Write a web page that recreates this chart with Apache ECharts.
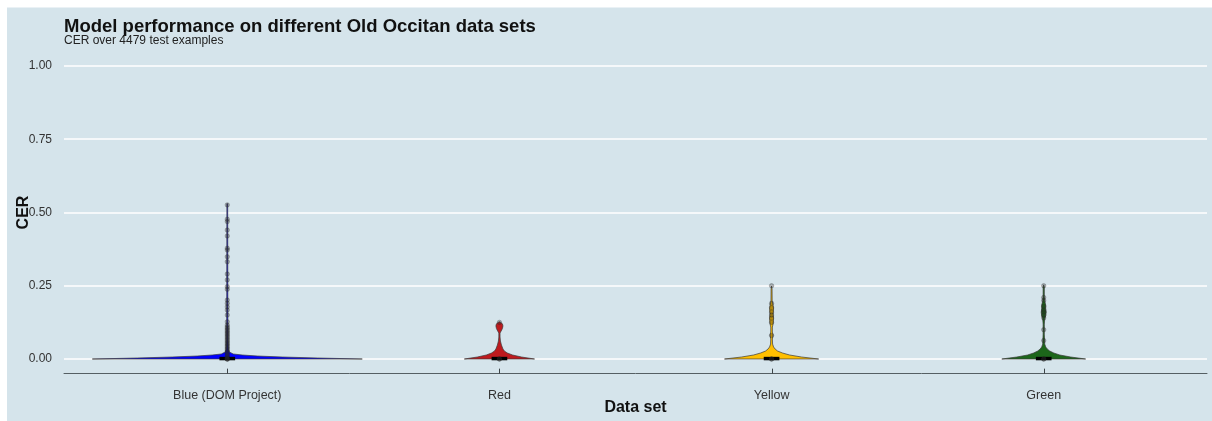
<!DOCTYPE html>
<html>
<head>
<meta charset="utf-8">
<style>
  html, body { margin: 0; padding: 0; background: #ffffff; }
  #chart { width: 1212px; height: 421px; }
</style>
<script src="https://cdn.jsdelivr.net/npm/echarts@6/dist/echarts.min.js"></script>
</head>
<body>
<div id="chart"></div>
<script>
// Data sets on the x axis
const categories = ['Blue (DOM Project)', 'Red', 'Yellow', 'Green'];
const fillColors = ['#0000ff', '#be1a1e', '#ffbf00', '#1c661a'];
const yTicks = [0, 0.25, 0.5, 0.75, 1];

// Violin outlines: [CER, half width as a fraction of one category step]
const blueProfile = [
  [0, 0.496], [0.0034, 0.331], [0.0068, 0.202], [0.0102, 0.110], [0.0137, 0.055],
  [0.0171, 0.022], [0.024, 0.0074], [0.034, 0.0037], [0.068, 0.0022], [0.53, 0.0015]
];
const redProfile = [
  [0, 0.129], [0.0068, 0.081], [0.0137, 0.048], [0.0205, 0.029], [0.0273, 0.018],
  [0.0341, 0.013], [0.0478, 0.0074], [0.0614, 0.0037], [0.075, 0.0022], [0.0887, 0.0022],
  [0.094, 0.0055], [0.104, 0.011], [0.113, 0.013], [0.120, 0.011], [0.124, 0.0055], [0.127, 0]
];
const yellowProfile = [
  [0, 0.173], [0.0068, 0.110], [0.0137, 0.066], [0.0205, 0.040], [0.0273, 0.022],
  [0.0341, 0.013], [0.041, 0.0074], [0.051, 0.0037], [0.068, 0.003], [0.082, 0.0055],
  [0.092, 0.003], [0.109, 0.003], [0.119, 0.0055], [0.137, 0.0074], [0.154, 0.0055],
  [0.171, 0.0074], [0.184, 0.0055], [0.198, 0.0022], [0.239, 0.0018], [0.249, 0]
];
const greenProfile = [
  [0, 0.154], [0.0068, 0.099], [0.0137, 0.059], [0.0205, 0.037], [0.0273, 0.022],
  [0.0341, 0.013], [0.041, 0.0074], [0.051, 0.0037], [0.085, 0.0022], [0.119, 0.0022],
  [0.137, 0.0037], [0.147, 0.0074], [0.160, 0.0092], [0.171, 0.0074], [0.184, 0.0074],
  [0.198, 0.0037], [0.212, 0.0022], [0.246, 0.0022], [0.253, 0]
];
const profiles = [blueProfile, redProfile, yellowProfile, greenProfile];

// Box summaries (lower hinge, upper hinge)
const boxLower = [0, 0, 0, 0];
const boxUpper = [0.003, 0.003, 0.003, 0.003];

// Individual CER values drawn as points
const bluePoints = [
  0, 0, 0, 0.005, 0.01, 0.015, 0.02, 0.025, 0.03, 0.035, 0.04, 0.045, 0.05, 0.055,
  0.06, 0.065, 0.07, 0.075, 0.08, 0.085, 0.09, 0.095, 0.10, 0.105, 0.11, 0.116,
  0.127, 0.15, 0.167, 0.178, 0.19, 0.201, 0.238, 0.247, 0.27, 0.29, 0.332, 0.349,
  0.372, 0.378, 0.42, 0.44, 0.469, 0.477, 0.526
];
const redPoints = [0, 0, 0.125];
const yellowPoints = [0, 0, 0.08, 0.125, 0.14, 0.15, 0.16, 0.175, 0.19, 0.25];
const greenPoints = [0, 0, 0.063, 0.1, 0.14, 0.15, 0.16, 0.167, 0.18, 0.2, 0.21, 0.25];
const pointSets = [bluePoints, redPoints, yellowPoints, greenPoints];

const FONT = '"Liberation Sans", Arial, sans-serif';
const Y_MIN = -0.05;

const scatterData = [];
pointSets.forEach((vals, i) => vals.forEach(v => scatterData.push([i, v])));

const chart = echarts.init(document.getElementById('chart'));
chart.setOption({
  backgroundColor: '#ffffff',
  animation: false,
  graphic: [{
    type: 'rect', z: -10, silent: true,
    shape: { x: 7, y: 7.5, width: 1205, height: 414 },
    style: { fill: '#d5e4eb' }
  }],
  title: {
    text: 'Model performance on different Old Occitan data sets',
    subtext: 'CER over 4479 test examples',
    left: 64, top: 17, itemGap: -1.5, padding: 0,
    textStyle: { fontFamily: FONT, fontSize: 18.5, fontWeight: 'bold', color: '#111' },
    subtextStyle: { fontFamily: FONT, fontSize: 12, color: '#222' }
  },
  grid: { left: 64, right: 5, top: 51.35, bottom: 47.35, containLabel: false, outerBoundsMode: 'none' },
  xAxis: {
    type: 'value', min: -0.6, max: 3.6,
    name: 'Data set', nameLocation: 'middle', nameGap: 26, nameMoveOverlap: false,
    nameTextStyle: { fontFamily: FONT, fontSize: 16, fontWeight: 'bold', color: '#111' },
    axisLine: { show: true, onZero: false, lineStyle: { color: '#555f63', width: 1 } },
    axisTick: { show: false, customValues: [0, 1, 2, 3] },
    axisLabel: { customValues: [0, 1, 2, 3], margin: 15,
      fontFamily: FONT, fontSize: 12.5, color: '#333',
      formatter: v => categories[Math.round(v)] },
    splitLine: { show: false }
  },
  yAxis: {
    type: 'value', min: Y_MIN, max: 1.05,
    name: 'CER', nameLocation: 'middle', nameGap: 32, nameRotate: 90, nameMoveOverlap: false,
    nameTextStyle: { fontFamily: FONT, fontSize: 16, fontWeight: 'bold', color: '#111' },
    axisLine: { show: false, onZero: false },
    axisTick: { show: false, customValues: yTicks },
    axisLabel: { customValues: yTicks, margin: 12,
      fontFamily: FONT, fontSize: 12, color: '#333',
      formatter: v => v.toFixed(2) },
    splitLine: { show: true, lineStyle: { color: '#ffffff', width: 1.5 } }
  },
  series: [
    {
      type: 'custom', name: 'violin', z: 2,
      data: categories.map((c, i) => [i]),
      renderItem: (params, api) => {
        const i = api.value(0);
        const prof = profiles[i];
        const right = prof.map(p => api.coord([i + p[1], p[0]]));
        const left = prof.slice().reverse().map(p => api.coord([i - p[1], p[0]]));
        return {
          type: 'polygon',
          shape: { points: right.concat(left) },
          style: { fill: fillColors[i], stroke: '#3a3a3a', lineWidth: 0.7 }
        };
      }
    },
    {
      type: 'custom', name: 'box', z: 3,
      data: categories.map((c, i) => [i, boxLower[i], boxUpper[i]]),
      renderItem: (params, api) => {
        const i = api.value(0);
        const a = api.coord([i - 0.024, api.value(2)]);
        const b = api.coord([i + 0.024, api.value(1)]);
        return {
          type: 'rect',
          shape: { x: a[0], y: a[1], width: b[0] - a[0], height: b[1] - a[1] },
          style: { fill: '#000', stroke: '#000', lineWidth: 2.6 }
        };
      }
    },
    {
      // short category ticks standing on the x axis line
      type: 'custom', name: 'ticks', z: 3, silent: true,
      data: categories.map((c, i) => [i]),
      renderItem: (params, api) => {
        const p = api.coord([api.value(0), Y_MIN]);
        const x = Math.round(p[0]) + 0.5;
        return {
          type: 'line',
          shape: { x1: x, y1: p[1], x2: x, y2: p[1] - 5 },
          style: { stroke: '#3c4448', lineWidth: 1 }
        };
      }
    },
    {
      type: 'scatter', name: 'points', z: 4,
      symbol: 'circle', symbolSize: 4.5,
      itemStyle: { color: 'rgba(40,40,40,0.42)', borderColor: 'rgba(40,40,40,0.5)', borderWidth: 0.6 },
      data: scatterData
    }
  ]
});
</script>
</body>
</html>
